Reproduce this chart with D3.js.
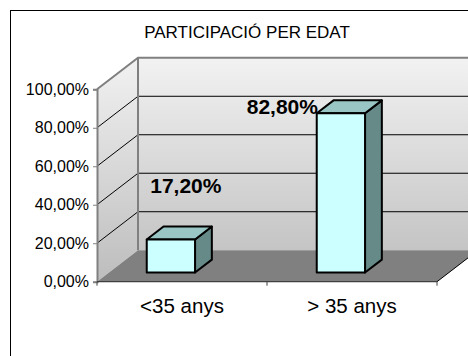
<!DOCTYPE html>
<html>
<head>
<meta charset="utf-8">
<script src="https://cdn.jsdelivr.net/npm/d3@7"></script>
<style>
  html, body { margin: 0; padding: 0; background: #fff; }
  svg { display: block; font-family: "Liberation Sans", Arial, sans-serif; }
</style>
</head>
<body>
<svg id="chart" width="468" height="356"></svg>
<script>
// ---- data ----
const title = "PARTICIPACIÓ PER EDAT";
const categories = ["<35 anys", "> 35 anys"];
const values = [17.20, 82.80];
const yTicks = [0, 20, 40, 60, 80, 100];

// ---- layout ----
const svg = d3.select("#chart");
const front = { left: 97, right: 437, top: 89.3, bottom: 281.7 };
const depthX = 41, depthY = 31.5;
const barD0 = 0.29, barD1 = 0.70;
const barW = 48.3, barShift = -23;
const labelOffset = [[3.5, -46.5], [-70, 0.6]]; // per-label placement relative to bar front-top-left

const y = d3.scaleLinear().domain([0, 100]).range([front.bottom, front.top]);
const x = d3.scaleBand().domain(categories).range([front.left, front.right]).padding(0);
const P = (px, v, d) => [px + d * depthX, y(v) - d * depthY];
const fmt = v => d3.format(".2f")(v).replace(".", ",") + "%";

// outer border
svg.append("rect").attr("x", 10.5).attr("y", 10.5).attr("width", 520).attr("height", 420)
  .attr("fill", "#fff").attr("stroke", "#000").attr("stroke-width", 1);

// title
svg.append("text").attr("x", 247).attr("y", 38.3).attr("text-anchor", "middle")
  .attr("font-size", 17).attr("fill", "#000").text(title);

// gradient
const defs = svg.append("defs");
const grad = defs.append("linearGradient").attr("id", "wallGrad")
  .attr("gradientUnits", "userSpaceOnUse")
  .attr("x1", 0).attr("y1", y(100) - depthY).attr("x2", 0).attr("y2", y(0));
grad.append("stop").attr("offset", 0).attr("stop-color", "#f2f2f2");
grad.append("stop").attr("offset", 1).attr("stop-color", "#bdbdbd");

const poly = pts => "M" + pts.map(p => p.join(",")).join("L") + "Z";
const line = pts => "M" + pts.map(p => p.join(",")).join("L");
const farRight = front.right + 80;

// back wall
svg.append("path").attr("d", poly([P(front.left, 100, 1), P(farRight, 100, 1), P(farRight, 0, 1), P(front.left, 0, 1)]))
  .attr("fill", "url(#wallGrad)");
// left wall
svg.append("path").attr("d", poly([P(front.left, 100, 0), P(front.left, 100, 1), P(front.left, 0, 1), P(front.left, 0, 0)]))
  .attr("fill", "url(#wallGrad)");
// floor
svg.append("path").attr("d", poly([P(front.left, 0, 0), P(front.right, 0, 0), P(front.right, 0, 1), P(front.left, 0, 1)]))
  .attr("fill", "#808080");

// gridlines
yTicks.filter(v => v > 0 && v < 100).forEach(v => {
  svg.append("path").attr("d", line([P(front.left, v, 0), P(front.left, v, 1), P(farRight, v, 1)]))
    .attr("fill", "none").attr("stroke", "#000").attr("stroke-width", 1);
});
// wall edges
svg.append("path").attr("d", line([P(front.left, 100, 0), P(front.left, 100, 1), P(farRight, 100, 1)]))
  .attr("fill", "none").attr("stroke", "#808080").attr("stroke-width", 2);
svg.append("path").attr("d", line([P(front.left, 100, 1), P(front.left, 0, 1)]))
  .attr("fill", "none").attr("stroke", "#808080").attr("stroke-width", 2);
// floor right edge
svg.append("path").attr("d", line([P(front.right, 0, 0), P(front.right, 0, 1.3)]))
  .attr("fill", "none").attr("stroke", "#000").attr("stroke-width", 1);

// y axis
const yAxis = svg.append("g").attr("transform", `translate(${front.left},0)`)
  .call(d3.axisLeft(y).tickValues(yTicks).tickSize(4).tickPadding(4).tickFormat(fmt));
yAxis.select(".domain").attr("stroke", "#808080").attr("stroke-width", 2);
yAxis.selectAll(".tick line").attr("stroke", "#808080");
yAxis.selectAll(".tick text").attr("font-size", 16).attr("fill", "#000")
  .attr("font-family", "Liberation Sans, Arial, sans-serif");

// x axis line and ticks
svg.append("line").attr("x1", front.left).attr("x2", front.right).attr("y1", front.bottom).attr("y2", front.bottom)
  .attr("stroke", "#404040").attr("stroke-width", 1.2);
const boundaries = [front.left, ...categories.map(c => x(c) + x.bandwidth())];
svg.selectAll(".xtick").data(boundaries).enter().append("line")
  .attr("x1", d => d).attr("x2", d => d).attr("y1", front.bottom).attr("y2", front.bottom + 4)
  .attr("stroke", "#404040");
svg.selectAll(".xlab").data(categories).enter().append("text")
  .attr("x", d => x(d) + x.bandwidth() / 2).attr("y", 312.5)
  .attr("text-anchor", "middle").attr("font-size", 20.5).attr("fill", "#000").text(d => d);

// bars
const bars = svg.selectAll(".bar").data(values.map((v, i) => ({ v, i, c: categories[i] }))).enter()
  .append("g").attr("class", "bar");
const dd = barD1 - barD0;
bars.each(function(d) {
  const g = d3.select(this);
  const cx = x(d.c) + x.bandwidth() / 2 + barShift;
  const x0 = cx - barW / 2, x1 = cx + barW / 2;
  const ft = P(x0, d.v, barD0), fr = P(x1, d.v, barD0), fb = P(x1, 0, barD0), fl = P(x0, 0, barD0);
  const sh = p => [p[0] + dd * depthX, p[1] - dd * depthY];
  g.append("path").attr("d", poly([fr, sh(fr), sh(fb), fb])).attr("fill", "#668a88")
    .attr("stroke", "#000").attr("stroke-width", 2).attr("stroke-linejoin", "round");
  g.append("path").attr("d", poly([ft, fr, sh(fr), sh(ft)])).attr("fill", "#99c6c4")
    .attr("stroke", "#000").attr("stroke-width", 2).attr("stroke-linejoin", "round");
  g.append("path").attr("d", poly([ft, fr, fb, fl])).attr("fill", "#ccffff")
    .attr("stroke", "#000").attr("stroke-width", 2).attr("stroke-linejoin", "round");
  g.append("text").attr("x", ft[0] + labelOffset[d.i][0]).attr("y", ft[1] + labelOffset[d.i][1])
    .attr("font-size", 21).attr("font-weight", "bold").attr("fill", "#000").text(fmt(d.v));
});
</script>
</body>
</html>
